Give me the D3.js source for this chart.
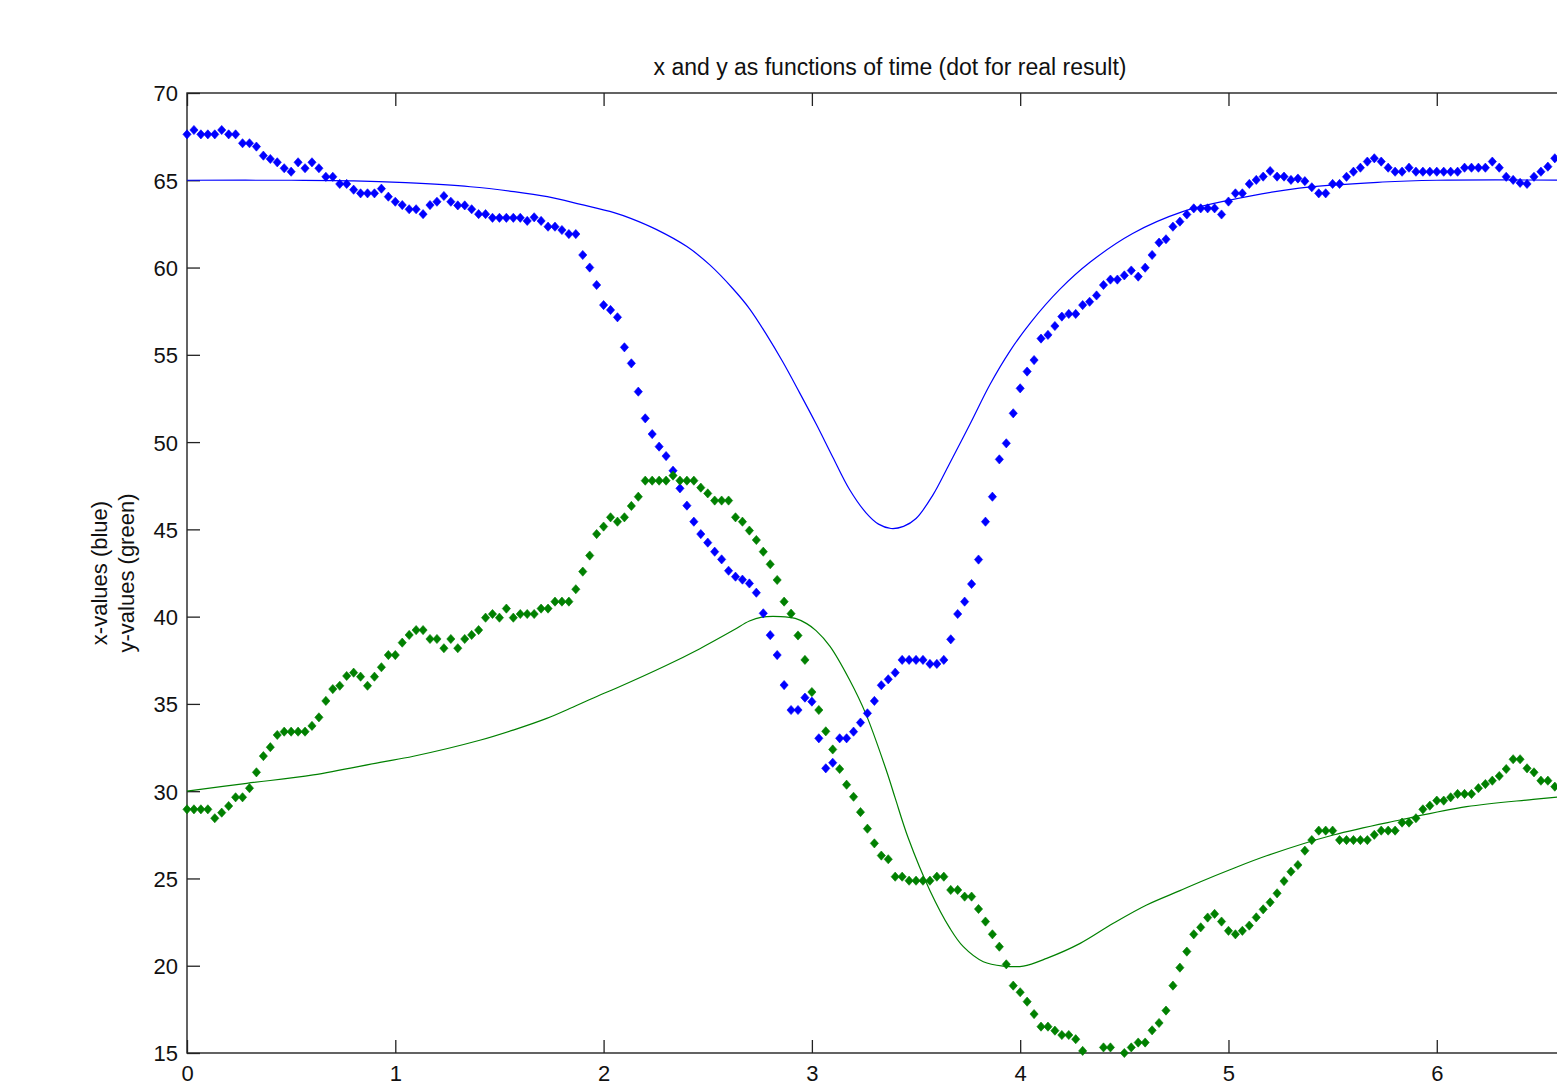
<!DOCTYPE html>
<html>
<head>
<meta charset="utf-8">
<script src="https://cdn.jsdelivr.net/npm/d3@7"></script>
<style>
  html, body { margin: 0; padding: 0; background: #fff; }
  svg { display: block; }
  text { font-family: "Liberation Sans", Arial, Helvetica, sans-serif; fill: #111; }
</style>
</head>
<body>
<svg id="chart" width="1557" height="1091"></svg>
<script>
// ---------- DATA ----------
const titleText = "x and y as functions of time (dot for real result)";
const yLabelLines = ["x-values (blue)", "y-values (green)"];
const xTicks = [0, 1, 2, 3, 4, 5, 6];
const yTicks = [15, 20, 25, 30, 35, 40, 45, 50, 55, 60, 65, 70];
const xDomain = [0, 6.75];
const yDomain = [15, 70];
const sampleStep = 1 / 30;   // time between measured samples

// measured x (blue dots), one value per sample
const blueDots = [
  67.63, 67.88, 67.63, 67.63, 67.63, 67.88, 67.63, 67.63, 67.12, 67.12,
  66.93, 66.41, 66.22, 66.03, 65.69, 65.49, 66.03, 65.69, 66.03, 65.69,
  65.2, 65.2, 64.79, 64.79, 64.46, 64.25, 64.25, 64.25, 64.52, 64.06,
  63.77, 63.58, 63.34, 63.34, 63.06, 63.58, 63.77, 64.1, 63.77, 63.56,
  63.56, 63.34, 63.06, 63.06, 62.85, 62.85, 62.85, 62.85, 62.85, 62.67,
  62.88, 62.67, 62.34, 62.34, 62.15, 61.92, 61.92, 60.72, 60.0, 59.0,
  57.85, 57.57, 57.15, 55.43, 54.51, 52.89, 51.36, 50.46, 49.74, 49.2,
  48.36, 47.35, 46.36, 45.44, 44.73, 44.24, 43.72, 43.28, 42.63, 42.29,
  42.12, 41.9, 41.37, 40.19, 38.94, 37.8, 36.08, 34.65, 34.65, 35.36,
  35.13, 33.03, 31.31, 31.63, 33.03, 33.03, 33.41, 33.93, 34.46, 35.17,
  36.07, 36.41, 36.79, 37.52, 37.52, 37.52, 37.52, 37.29, 37.29, 37.52,
  38.7, 40.15, 40.86, 41.87, 43.27, 45.44, 46.87, 49.01, 49.93, 51.65,
  53.08, 54.04, 54.7, 55.93, 56.14, 56.65, 57.19, 57.34, 57.34, 57.85,
  58.04, 58.4, 59.0, 59.31, 59.31, 59.55, 59.83, 59.48, 59.99, 60.72,
  61.43, 61.62, 62.34, 62.63, 63.04, 63.39, 63.39, 63.39, 63.39, 63.04,
  63.78, 64.25, 64.25, 64.79, 65.02, 65.21, 65.53, 65.21, 65.21, 65.02,
  65.1, 64.95, 64.6, 64.25, 64.25, 64.79, 64.79, 65.2, 65.49, 65.72,
  66.07, 66.26, 66.07, 65.72, 65.49, 65.49, 65.72, 65.49, 65.49, 65.49,
  65.49, 65.49, 65.49, 65.49, 65.72, 65.72, 65.72, 65.72, 66.07, 65.72,
  65.2, 65.02, 64.85, 64.79, 65.2, 65.49, 65.78, 66.26
];

// measured y (green dots), one value per sample
const greenDots = [
  28.96, 28.96, 28.96, 28.96, 28.45, 28.77, 29.15, 29.65, 29.65, 30.17,
  31.08, 32.01, 32.52, 33.22, 33.41, 33.41, 33.41, 33.41, 33.74, 34.23,
  35.17, 35.85, 36.04, 36.6, 36.79, 36.56, 36.04, 36.56, 37.1, 37.8,
  37.8, 38.51, 38.95, 39.23, 39.23, 38.72, 38.72, 38.19, 38.72, 38.19,
  38.72, 38.95, 39.23, 39.94, 40.15, 39.94, 40.46, 39.94, 40.15, 40.15,
  40.15, 40.46, 40.46, 40.86, 40.86, 40.86, 41.57, 42.58, 43.5, 44.73,
  45.16, 45.69, 45.44, 45.69, 46.34, 46.87, 47.79, 47.79, 47.79, 47.79,
  48.08, 47.79, 47.79, 47.79, 47.39, 47.06, 46.65, 46.65, 46.65, 45.69,
  45.44, 44.93, 44.39, 43.72, 43.0, 42.1, 40.86, 40.17, 38.92, 37.52,
  35.68, 34.65, 33.43, 32.39, 31.27, 30.37, 29.68, 28.8, 27.85, 27.01,
  26.31, 26.1, 25.1, 25.1, 24.87, 24.87, 24.87, 24.87, 25.1, 25.1,
  24.34, 24.34, 23.96, 23.96, 23.25, 22.53, 21.8, 21.09, 20.08, 18.86,
  18.48, 17.94, 17.23, 16.51, 16.51, 16.28, 16.03, 16.03, 15.79, 15.12,
  14.7, 14.6, 15.32, 15.32, 14.8, 15.0, 15.32, 15.6, 15.6, 16.3,
  16.72, 17.43, 18.86, 19.89, 20.81, 21.8, 22.2, 22.76, 22.97, 22.53,
  22.0, 21.8, 22.0, 22.3, 22.77, 23.23, 23.63, 24.15, 24.85, 25.39,
  25.77, 26.59, 27.2, 27.74, 27.74, 27.74, 27.2, 27.2, 27.2, 27.2,
  27.2, 27.5, 27.74, 27.74, 27.74, 28.2, 28.2, 28.45, 28.96, 29.17,
  29.46, 29.46, 29.65, 29.84, 29.84, 29.84, 30.17, 30.41, 30.6, 30.87,
  31.27, 31.83, 31.83, 31.31, 31.08, 30.6, 30.6, 30.26
];

// model curves (solid lines)
const blueModelT = [0, 0.5, 0.8, 1.05, 1.36, 1.57, 1.73, 1.89, 2.05, 2.13, 2.25, 2.40, 2.51, 2.62, 2.70, 2.78, 2.86, 2.94, 3.02, 3.10, 3.18, 3.26, 3.32, 3.38, 3.44, 3.50, 3.58, 3.66, 3.76, 3.855, 3.95, 4.05, 4.19, 4.335, 4.54, 4.78, 5.0, 5.34, 5.74, 6.0, 6.75];
const blueModelV = [65, 65, 64.97, 64.86, 64.63, 64.35, 64.06, 63.62, 63.15, 62.82, 62.2, 61.2, 60.15, 58.8, 57.65, 56.2, 54.6, 52.85, 51.05, 49.15, 47.3, 45.95, 45.3, 45.05, 45.17, 45.62, 46.95, 48.75, 51.05, 53.3, 55.2, 56.85, 58.75, 60.3, 61.95, 63.2, 63.85, 64.55, 64.9, 65.0, 65.0];
const greenModelT = [0, 0.287, 0.606, 0.927, 1.087, 1.41, 1.566, 1.727, 1.84, 1.98, 2.06, 2.30, 2.46, 2.62, 2.70, 2.76, 2.85, 2.92, 2.975, 3.02, 3.087, 3.18, 3.26, 3.36, 3.40, 3.463, 3.567, 3.663, 3.727, 3.823, 3.919, 4.015, 4.127, 4.288, 4.447, 4.607, 4.767, 4.863, 5.007, 5.183, 5.503, 5.823, 6.143, 6.463, 6.75];
const greenModelV = [30, 30.45, 30.93, 31.65, 32.0, 32.93, 33.5, 34.17, 34.75, 35.5, 35.9, 37.2, 38.15, 39.2, 39.75, 39.97, 40.0, 39.9, 39.6, 39.2, 38.3, 36.4, 34.4, 31.1, 29.6, 27.3, 24.3, 22.14, 21.09, 20.23, 19.98, 19.98, 20.42, 21.28, 22.43, 23.48, 24.3, 24.8, 25.5, 26.3, 27.49, 28.35, 29.11, 29.53, 29.85];

// ---------- LAYOUT ----------
const svg = d3.select("#chart");
const W = 1557, H = 1091;
const plotLeft = 187, plotTop = 93, plotBottom = 1053, plotRight = 1593;
const fontSize = 22;
const BLUE = "#0000ff", GREEN = "#008000";

svg.append("rect").attr("width", W).attr("height", H).attr("fill", "#fff");

const x = d3.scaleLinear().domain(xDomain).range([plotLeft, plotRight]);
const y = d3.scaleLinear().domain(yDomain).range([plotBottom, plotTop]);

// axes (MATLAB style: inward ticks, box)
const tickLen = 13;
const gx = svg.append("g").attr("transform", `translate(0,${plotBottom})`)
  .call(d3.axisBottom(x).tickValues(xTicks).tickFormat(d3.format("d")).tickSize(-tickLen).tickPadding(12));
const gxt = svg.append("g").attr("transform", `translate(0,${plotTop})`)
  .call(d3.axisTop(x).tickValues(xTicks).tickFormat("").tickSize(-tickLen));
const gy = svg.append("g").attr("transform", `translate(${plotLeft},0)`)
  .call(d3.axisLeft(y).tickValues(yTicks).tickFormat(d3.format("d")).tickSize(-tickLen).tickPadding(9));
const gyr = svg.append("g").attr("transform", `translate(${plotRight},0)`)
  .call(d3.axisRight(y).tickValues(yTicks).tickFormat("").tickSize(-tickLen));

[gx, gxt, gy, gyr].forEach(g => {
  g.select(".domain").remove();
  g.selectAll(".tick line").attr("stroke", "#222").attr("stroke-width", 1.3);
  g.selectAll(".tick text").attr("font-size", fontSize).attr("fill", "#111")
    .attr("font-family", '"Liberation Sans", Arial, sans-serif');
});
gx.selectAll(".tick text").attr("dy", "0.72em");
gy.selectAll(".tick text").attr("dy", "0.36em");

// box
svg.append("rect")
  .attr("x", plotLeft).attr("y", plotTop)
  .attr("width", plotRight - plotLeft).attr("height", plotBottom - plotTop)
  .attr("fill", "none").attr("stroke", "#222").attr("stroke-width", 1.4);

// model lines
const line = d3.line().x(d => x(d[0])).y(d => y(d[1])).curve(d3.curveCatmullRom.alpha(0.5));
svg.append("path")
  .datum(blueModelT.map((t, i) => [t, blueModelV[i]]))
  .attr("d", line).attr("fill", "none").attr("stroke", BLUE).attr("stroke-width", 1.2);
svg.append("path")
  .datum(greenModelT.map((t, i) => [t, greenModelV[i]]))
  .attr("d", line).attr("fill", "none").attr("stroke", GREEN).attr("stroke-width", 1.2);

// measured dots (diamonds); points outside the y limits are not drawn
const diamond = "M0,-4.6L4.1,0L0,4.6L-4.1,0Z";
function drawDots(values, color) {
  const pts = values.map((v, i) => [i * sampleStep, v])
    .filter(d => d[1] >= yDomain[0] && d[1] <= yDomain[1]);
  svg.append("g").selectAll("path").data(pts).join("path")
    .attr("d", diamond)
    .attr("transform", d => `translate(${x(d[0])},${y(d[1])})`)
    .attr("fill", color).attr("stroke", color).attr("stroke-width", 0.6);
}
drawDots(blueDots, BLUE);
drawDots(greenDots, GREEN);

// title
svg.append("text")
  .attr("x", (plotLeft + plotRight) / 2).attr("y", 75)
  .attr("text-anchor", "middle").attr("font-size", 23)
  .text(titleText);

// y label (two lines, rotated)
const ylab = svg.append("g");
[107, 134].forEach((xx, i) => {
  ylab.append("text")
    .attr("transform", `translate(${xx},${(plotTop + plotBottom) / 2}) rotate(-90)`)
    .attr("text-anchor", "middle").attr("font-size", fontSize)
    .text(yLabelLines[i]);
});
</script>
</body>
</html>
